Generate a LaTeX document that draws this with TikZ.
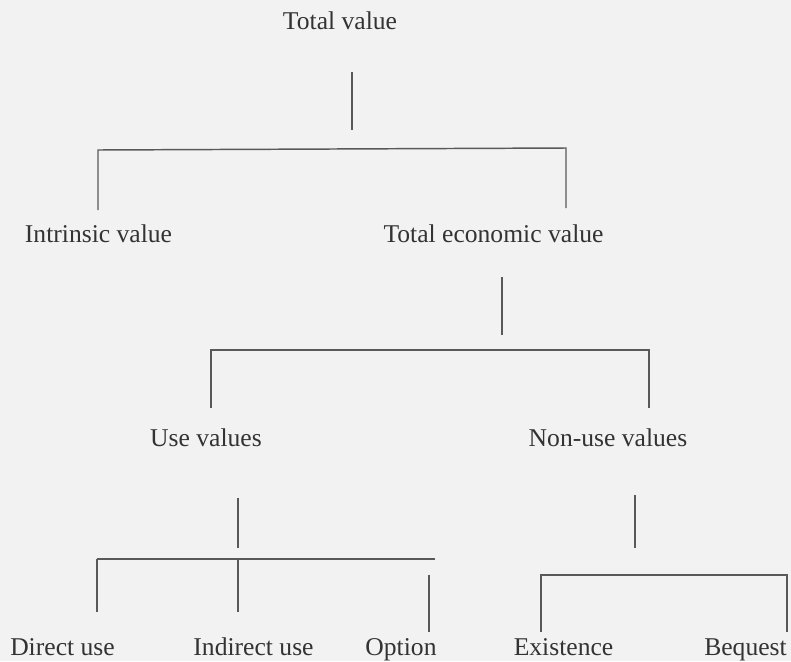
\documentclass[tikz,border=0pt]{standalone}
\usepackage{fontspec}
\setmainfont{Liberation Serif}
\begin{document}
\begin{tikzpicture} [x=0.75pt,y=-0.75pt,lbl/.style={anchor=base, inner sep=0pt, text=black!80, font=\fontsize{19.2}{23}\selectfont},ln/.style={draw=black!65, line width=1.1pt}]
  \fill[black!5] (0,0) rectangle (791,661);
  \useasboundingbox (0,0) rectangle (791,661);

  % labels
  \node[lbl] (tot) at (340,29) {Total value};
  \node[lbl] (intr) at (98.5,242) {Intrinsic value};
  \node[lbl] (tev) at (493.5,242) {Total economic value};
  \node[lbl] (use) at (206,446) {Use values};
  \node[lbl] (nonuse) at (608,446) {Non-use values};
  \node[lbl, anchor=base west] (direct) at (10,655) {Direct use};
  \node[lbl] (indirect) at (253.5,655) {Indirect use};
  \node[lbl] (option) at (401,655) {Option};
  \node[lbl] (exist) at (563.5,655) {Existence};
  \node[lbl, anchor=base east] (beq) at (787,655) {Bequest};

  % joints
  \coordinate (a1) at (352,72);   \coordinate (a2) at (352,130);
  \coordinate (a3) at (98,150);   \coordinate (a4) at (566,148);
  \coordinate (a5) at (98,210);   \coordinate (a6) at (566,208);

  \coordinate (b1) at (502,277);  \coordinate (b2) at (502,335);
  \coordinate (b3) at (211,350);  \coordinate (b4) at (649,350);
  \coordinate (b5) at (211,408);  \coordinate (b6) at (649,408);

  \coordinate (c1) at (238,498);  \coordinate (c2) at (238,548);
  \coordinate (c3) at (97,559);   \coordinate (c4) at (435,559);
  \coordinate (c5) at (238,559);
  \coordinate (c6) at (97,612);   \coordinate (c7) at (238,612);
  \coordinate (c8) at (429,575);  \coordinate (c9) at (429,632);

  \coordinate (d1) at (635,495);  \coordinate (d2) at (635,548);
  \coordinate (d3) at (541,575);  \coordinate (d4) at (787,575);
  \coordinate (d5) at (541,632);  \coordinate (d6) at (787,632);

    \draw[ln] (a1) -- (a2);
    \draw[ln] (a5) -- (a3) -- (a4) -- (a6);

    \draw[ln] (b1) -- (b2);
    \draw[ln] (b5) -- (b3) -- (b4) -- (b6);

    \draw[ln] (c1) -- (c2);
    \draw[ln] (c3) -- (c4);
    \draw[ln] (c3) -- (c6);
    \draw[ln] (c5) -- (c7);
    \draw[ln] (c8) -- (c9);

    \draw[ln] (d1) -- (d2);
    \draw[ln] (d5) -- (d3) -- (d4) -- (d6);

\end{tikzpicture}
\end{document}
